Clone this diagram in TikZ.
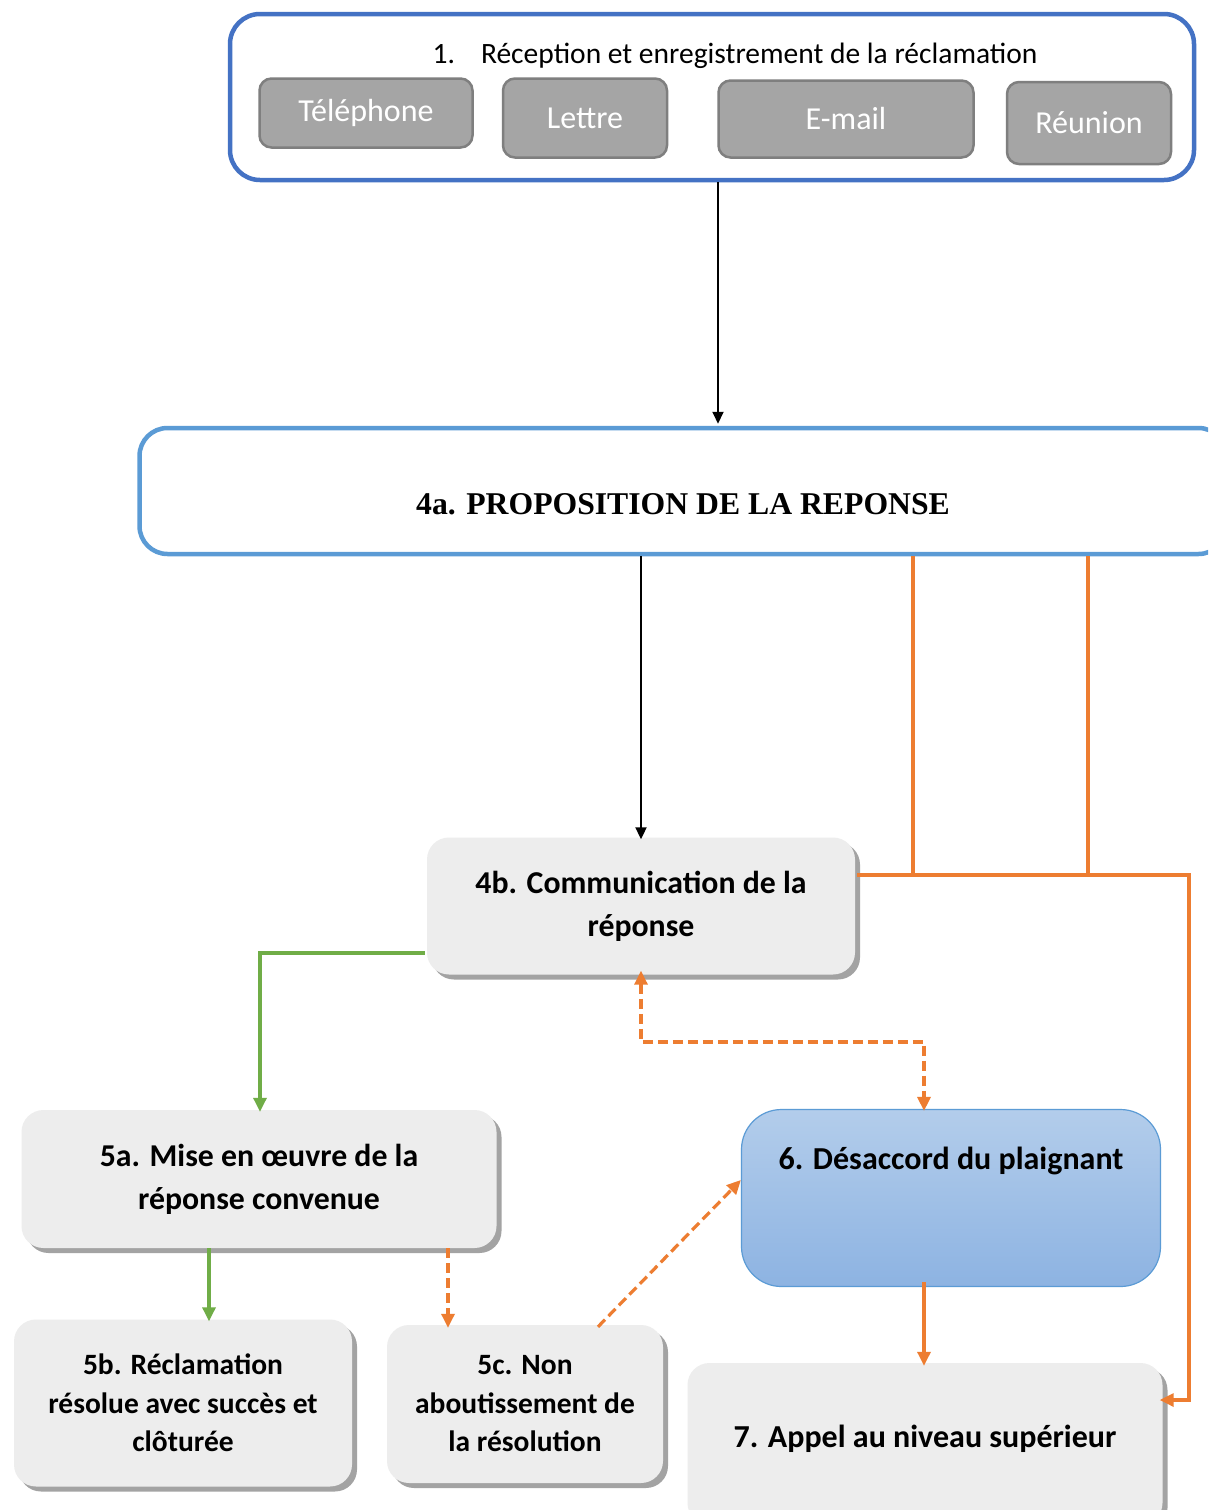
\documentclass[tikz,border=0pt]{standalone}
\usepackage{fontspec}
\setmainfont{Carlito}
\newfontfamily\serifbold{Liberation Serif}
\usetikzlibrary{arrows.meta,shadows}
\definecolor{frameblue}{HTML}{4472C4}
\definecolor{lightblue}{HTML}{5B9BD5}
\definecolor{chanfill}{HTML}{A5A5A5}
\definecolor{chanborder}{HTML}{7F7F7F}
\definecolor{boxfill}{HTML}{EDEDED}
\definecolor{boxshadow}{HTML}{A3A3A3}
\definecolor{flowgreen}{HTML}{70AD47}
\definecolor{floworange}{HTML}{ED7D31}
\definecolor{sixtop}{HTML}{B3CDEB}
\definecolor{sixbottom}{HTML}{8DB3E2}

\begin{document}
\begin{tikzpicture}[x=1pt, y=-1pt,
    every node/.style={inner sep=0pt},
    channel/.style={draw=chanborder, fill=chanfill, line width=2.5pt, rounded corners=12pt,
        text=white, font=\fontsize{32}{38}\selectfont},
    stepbox/.style={fill=boxfill, rounded corners=22pt, align=center,
        drop shadow={shadow xshift=5pt, shadow yshift=-5pt, fill=boxshadow, opacity=1},
        font=\bfseries\fontsize{31.8}{43}\selectfont},
    arr/.style={-{Triangle[length=14pt,width=13pt]}},
    biarr/.style={{Triangle[length=14pt,width=13pt]}-{Triangle[length=14pt,width=13pt]}},
    blackline/.style={black, line width=2pt},
    greenline/.style={flowgreen, line width=3.2pt},
    orangeline/.style={floworange, line width=3.2pt},
    orangedash/.style={floworange, line width=3.2pt, dash pattern=on 10pt off 5pt}
]
\useasboundingbox (0,0) rectangle (1208,1510);
\clip (0,0) rectangle (1208,1510);
\fill[white] (0,0) rectangle (1208,1510);

% Reception
\node[draw=frameblue, line width=4.5pt, rounded corners=30pt,
      minimum width=964pt, minimum height=166pt] (r1) at (712,97) {};
\node[font=\fontsize{29.5}{34}\selectfont] (t1) at (735,56)
    {1.\hspace{26pt}Réception et enregistrement de la réclamation};
\node[channel, minimum width=213pt, minimum height=69pt] (tel) at (366,113) {Téléphone};
\node[channel, minimum width=164pt, minimum height=79pt] (let) at (585,118) {Lettre};
\node[channel, minimum width=255pt, minimum height=77pt] (mail) at (846,119) {E-mail};
\node[channel, minimum width=164pt, minimum height=82pt] (reu) at (1089,123) {Réunion};

% Proposition
\node[draw=lightblue, line width=4.5pt, rounded corners=28pt,
      minimum width=1087pt, minimum height=126pt,
      font=\serifbold\bfseries\fontsize{31.7}{38}\selectfont,
      text height=46pt, text depth=0pt] (a4) at (683,491) {4a. PROPOSITION DE LA REPONSE};

% Steps
\node[stepbox, minimum width=428pt, minimum height=137pt] (b4) at (641,906)
    {4b. Communication de la\\réponse};
\node[stepbox, minimum width=475pt, minimum height=138pt] (a5) at (259,1179)
    {5a. Mise en \oe uvre de la\\réponse convenue};
\node[stepbox, minimum width=338pt, minimum height=167pt,
      font=\bfseries\fontsize{29.5}{38.5}\selectfont] (b5) at (183,1403)
    {5b. Réclamation\\résolue avec succès et\\clôturée};
\node[stepbox, minimum width=276pt, minimum height=158pt,
      font=\bfseries\fontsize{29.5}{38.5}\selectfont] (c5) at (525,1404)
    {5c. Non\\aboutissement de\\la résolution};
\node[draw=lightblue, line width=1.2pt, top color=sixtop, bottom color=sixbottom,
      rounded corners=40pt, minimum width=419pt, minimum height=177pt,
      font=\bfseries\fontsize{32}{38}\selectfont,
      text height=22pt, text depth=80pt] (d6) at (951,1198) {6. Désaccord du plaignant};
\node[stepbox, minimum width=475pt, minimum height=162pt,
      font=\bfseries\fontsize{32}{38}\selectfont,
      text height=22pt, text depth=15pt] (a7) at (925,1444)
    {7. Appel au niveau supérieur};

% Connector positions
\coordinate (x1) at (718,0);
\coordinate (x2) at (913,0);
\coordinate (x3) at (1088,0);
\coordinate (xr) at (1189,0);
\coordinate (x6) at (924,0);
\coordinate (xg) at (260,0);
\coordinate (xb) at (209,0);
\coordinate (xc) at (448,0);
\coordinate (xd) at (598,0);
\coordinate (yo) at (0,875);
\coordinate (y7) at (0,1400);
\coordinate (yg) at (0,953);
\coordinate (yd) at (0,1042);
\coordinate (y6) at (0,1180);

% Black arrows
\draw[blackline, -{Triangle[length=12pt,width=11pt]}] (r1.south -| x1) -- ([yshift=2pt]a4.north -| x1);
\draw[blackline, -{Triangle[length=12pt,width=11pt]}] (a4.south -| b4.north) -- ([yshift=-2pt]b4.north);

% Orange lines to appeal
\draw[orangeline] (a4.south -| x2) -- (x2 |- yo);
\draw[orangeline] (a4.south -| x3) -- (x3 |- yo);
\draw[orangeline, arr] ([xshift=2pt]b4.east |- yo) -- (xr |- yo) -- (xr |- y7) -- ([xshift=-3pt]a7.east |- y7);

% Green path
\draw[greenline, arr] ([xshift=-2pt]b4.west |- yg) -| ([yshift=-2pt]a5.north -| xg);
\draw[greenline, arr] (a5.south -| xb) -- ([yshift=-2pt]b5.north -| xb);

% Disagreement
\draw[orangedash, biarr] ([yshift=4pt]b4.south) -- (b4.south |- yd) -| ([yshift=-2pt]d6.north -| x6);
\draw[orangedash, arr] (a5.south -| xc) -- ([yshift=-3pt]c5.north -| xc);
\draw[orangedash, arr] ([yshift=-2pt]c5.north -| xd) -- (d6.west |- y6);
\draw[orangeline, arr] ([yshift=5pt]d6.south -| x6) -- ([yshift=-3pt]a7.north -| x6);

\end{tikzpicture}
\end{document}
